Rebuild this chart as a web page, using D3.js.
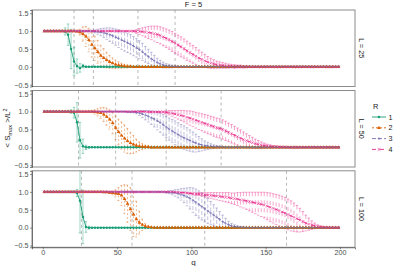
<!DOCTYPE html>
<html>
<head>
<meta charset="utf-8">
<script src="https://cdnjs.cloudflare.com/ajax/libs/d3/7.8.5/d3.min.js"></script>
<style>
body { margin: 0; background: #fff; }
text { font-family: "Liberation Sans", Arial, sans-serif; }
</style>
</head>
<body>
<svg id="chart" width="399" height="266"></svg>
<script>
// sample grid of q (every other q value)
var qGrid = d3.range(1, 201, 2);
var rLevels = ["1", "2", "3", "4"];
var rColors = ["#1B9E77", "#D95F02", "#7570B3", "#E7298A"];
var rDash = [null, "2,2", "4,2", "4,4"];
var lLabels = ["L = 25", "L = 50", "L = 100"];
var fLabel = "F = 5";
var xTicks = [0, 50, 100, 150, 200];
var yTicks = [-0.5, 0, 0.5, 1, 1.5];

// critical q (dashed lines) per L, one per R
var qc25 = [21, 34, 64, 89];
var qc50 = [24, 49, 83, 120];
var qc100 = [26, 60, 109, 164];

// <Smax>/L^2 means and sds, 10 values per row
var L25_R1_mean = [
	1,1,1,1,1,1,1,0.99,0.9,0.5,
	0.15,0.02,-0.03,0.02,0,0,0,0,0,0,
	0,0,0,0,0,0,0,0,0,0, 0,0,0,0,0,0,0,0,0,0, 0,0,0,0,0,0,0,0,0,0,
	0,0,0,0,0,0,0,0,0,0, 0,0,0,0,0,0,0,0,0,0, 0,0,0,0,0,0,0,0,0,0,
	0,0,0,0,0,0,0,0,0,0, 0,0,0,0,0,0,0,0,0,0];
var L25_R1_sd = [
	0,0,0,0,0,0,0.01,0.1,0.3,0.55,
	0.4,0.2,0.12,0.05,0.02,0.01,0,0,0,0,
	0,0,0,0,0,0,0,0,0,0, 0,0,0,0,0,0,0,0,0,0, 0,0,0,0,0,0,0,0,0,0,
	0,0,0,0,0,0,0,0,0,0, 0,0,0,0,0,0,0,0,0,0, 0,0,0,0,0,0,0,0,0,0,
	0,0,0,0,0,0,0,0,0,0, 0,0,0,0,0,0,0,0,0,0];
var L25_R2_mean = [
	1,1,1,1,1,1,1,1,1,1,
	1,0.99,0.97,0.92,0.85,0.75,0.62,0.52,0.42,0.31,
	0.25,0.19,0.14,0.1,0.07,0.05,0.03,0.02,0.01,0.01,
	0,0,0,0,0,0,0,0,0,0, 0,0,0,0,0,0,0,0,0,0, 0,0,0,0,0,0,0,0,0,0,
	0,0,0,0,0,0,0,0,0,0, 0,0,0,0,0,0,0,0,0,0, 0,0,0,0,0,0,0,0,0,0,
	0,0,0,0,0,0,0,0,0,0];
var L25_R2_sd = [
	0,0,0,0,0,0,0,0,0,0,
	0,0.02,0.08,0.2,0.28,0.33,0.35,0.34,0.32,0.29,
	0.26,0.22,0.18,0.15,0.12,0.09,0.07,0.05,0.04,0.03,
	0.02,0.01,0,0,0,0,0,0,0,0,
	0,0,0,0,0,0,0,0,0,0, 0,0,0,0,0,0,0,0,0,0, 0,0,0,0,0,0,0,0,0,0,
	0,0,0,0,0,0,0,0,0,0, 0,0,0,0,0,0,0,0,0,0, 0,0,0,0,0,0,0,0,0,0];
var L25_R3_mean = [
	1,1,1,1,1,1,1,1,1,1,
	1,1,1,1,1,1,1,0.99,0.98,0.97,
	0.95,0.93,0.9,0.87,0.83,0.79,0.75,0.71,0.67,0.63,
	0.58,0.53,0.48,0.42,0.35,0.29,0.23,0.17,0.12,0.08,
	0.05,0.03,0.02,0.01,0.01,0,0,0,0,0,
	0,0,0,0,0,0,0,0,0,0, 0,0,0,0,0,0,0,0,0,0, 0,0,0,0,0,0,0,0,0,0,
	0,0,0,0,0,0,0,0,0,0, 0,0,0,0,0,0,0,0,0,0];
var L25_R3_sd = [
	0,0,0,0,0,0,0,0,0,0,
	0,0,0,0,0,0,0.02,0.04,0.07,0.1,
	0.13,0.16,0.19,0.21,0.23,0.25,0.26,0.27,0.27,0.27,
	0.27,0.26,0.25,0.24,0.22,0.2,0.18,0.15,0.12,0.1,
	0.08,0.06,0.05,0.04,0.03,0.02,0.01,0.01,0,0,
	0,0,0,0,0,0,0,0,0,0, 0,0,0,0,0,0,0,0,0,0, 0,0,0,0,0,0,0,0,0,0,
	0,0,0,0,0,0,0,0,0,0, 0,0,0,0,0,0,0,0,0,0];
var L25_R4_mean = [
	1,1,1,1,1,1,1,1,1,1, 1,1,1,1,1,1,1,1,1,1, 1,1,1,1,1,1,1,1,1,1,
	1,0.99,0.99,0.98,0.97,0.96,0.95,0.93,0.91,0.88,
	0.84,0.8,0.76,0.71,0.66,0.61,0.56,0.51,0.45,0.4,
	0.35,0.3,0.25,0.21,0.17,0.13,0.1,0.08,0.06,0.05,
	0.04,0.03,0.02,0.02,0.01,0.01,0.01,0,0,0,
	0,0,0,0,0,0,0,0,0,0, 0,0,0,0,0,0,0,0,0,0, 0,0,0,0,0,0,0,0,0,0];
var L25_R4_sd = [
	0,0,0,0,0,0,0,0,0,0, 0,0,0,0,0,0,0,0,0,0, 0,0,0,0,0,0,0,0,0,0,
	0.02,0.05,0.08,0.11,0.14,0.17,0.19,0.21,0.23,0.24,
	0.25,0.26,0.27,0.28,0.28,0.28,0.28,0.27,0.27,0.26,
	0.25,0.24,0.22,0.2,0.18,0.16,0.14,0.12,0.1,0.09,
	0.08,0.07,0.06,0.05,0.05,0.04,0.04,0.03,0.02,0.02,
	0.01,0.01,0,0,0,0,0,0,0,0,
	0,0,0,0,0,0,0,0,0,0, 0,0,0,0,0,0,0,0,0,0];

var L50_R1_mean = [
	1,1,1,1,1,1,1,1,1,1,
	0.97,0.7,0.2,0.03,0,0,0,0,0,0,
	0,0,0,0,0,0,0,0,0,0, 0,0,0,0,0,0,0,0,0,0, 0,0,0,0,0,0,0,0,0,0,
	0,0,0,0,0,0,0,0,0,0, 0,0,0,0,0,0,0,0,0,0, 0,0,0,0,0,0,0,0,0,0,
	0,0,0,0,0,0,0,0,0,0, 0,0,0,0,0,0,0,0,0,0];
var L50_R1_sd = [
	0,0,0,0,0,0,0,0,0.02,0.05,
	0.15,0.55,0.5,0.2,0.06,0.02,0,0,0,0,
	0,0,0,0,0,0,0,0,0,0, 0,0,0,0,0,0,0,0,0,0, 0,0,0,0,0,0,0,0,0,0,
	0,0,0,0,0,0,0,0,0,0, 0,0,0,0,0,0,0,0,0,0, 0,0,0,0,0,0,0,0,0,0,
	0,0,0,0,0,0,0,0,0,0, 0,0,0,0,0,0,0,0,0,0];
var L50_R2_mean = [
	1,1,1,1,1,1,1,1,1,1,
	1,1,1,1,1,1,1,0.99,0.98,0.96,
	0.92,0.86,0.78,0.68,0.55,0.43,0.33,0.25,0.18,0.12,
	0.08,0.05,0.03,0.02,0.01,0.01,0,0,0,0,
	0,0,0,0,0,0,0,0,0,0, 0,0,0,0,0,0,0,0,0,0, 0,0,0,0,0,0,0,0,0,0,
	0,0,0,0,0,0,0,0,0,0, 0,0,0,0,0,0,0,0,0,0, 0,0,0,0,0,0,0,0,0,0];
var L50_R2_sd = [
	0,0,0,0,0,0,0,0,0,0,
	0,0,0,0,0,0.01,0.03,0.06,0.1,0.15,
	0.2,0.24,0.27,0.3,0.33,0.36,0.38,0.38,0.35,0.3,
	0.25,0.18,0.12,0.08,0.05,0.03,0.02,0.01,0,0,
	0,0,0,0,0,0,0,0,0,0, 0,0,0,0,0,0,0,0,0,0, 0,0,0,0,0,0,0,0,0,0,
	0,0,0,0,0,0,0,0,0,0, 0,0,0,0,0,0,0,0,0,0, 0,0,0,0,0,0,0,0,0,0];
var L50_R3_mean = [
	1,1,1,1,1,1,1,1,1,1, 1,1,1,1,1,1,1,1,1,1,
	1,1,1,1,1,1,1,1,0.99,0.99,
	0.99,0.98,0.96,0.93,0.9,0.87,0.83,0.79,0.74,0.69,
	0.63,0.57,0.51,0.46,0.41,0.36,0.31,0.27,0.23,0.19,
	0.15,0.12,0.09,0.07,0.05,0.04,0.03,0.02,0.02,0.01,
	0.01,0,0,0,0,0,0,0,0,0,
	0,0,0,0,0,0,0,0,0,0, 0,0,0,0,0,0,0,0,0,0, 0,0,0,0,0,0,0,0,0,0];
var L50_R3_sd = [
	0,0,0,0,0,0,0,0,0,0, 0,0,0,0,0,0,0,0,0,0,
	0,0,0,0,0,0,0,0,0.01,0.01,
	0.02,0.04,0.07,0.1,0.13,0.16,0.19,0.22,0.25,0.27,
	0.29,0.3,0.31,0.32,0.33,0.33,0.33,0.33,0.32,0.3,
	0.28,0.25,0.21,0.17,0.13,0.1,0.07,0.05,0.03,0.02,
	0.01,0,0,0,0,0,0,0,0,0,
	0,0,0,0,0,0,0,0,0,0, 0,0,0,0,0,0,0,0,0,0, 0,0,0,0,0,0,0,0,0,0];
var L50_R4_mean = [
	1,1,1,1,1,1,1,1,1,1, 1,1,1,1,1,1,1,1,1,1, 1,1,1,1,1,1,1,1,1,1,
	1,1,1,1,1,0.99,0.99,0.99,0.99,0.99,
	0.99,0.98,0.97,0.95,0.93,0.91,0.89,0.87,0.84,0.82,
	0.79,0.76,0.73,0.7,0.67,0.64,0.61,0.58,0.55,0.53,
	0.5,0.46,0.42,0.38,0.34,0.3,0.26,0.22,0.19,0.16,
	0.13,0.1,0.08,0.06,0.05,0.04,0.03,0.02,0.02,0.01,
	0.01,0.01,0,0,0,0,0,0,0,0,
	0,0,0,0,0,0,0,0,0,0];
var L50_R4_sd = [
	0,0,0,0,0,0,0,0,0,0, 0,0,0,0,0,0,0,0,0,0, 0,0,0,0,0,0,0,0,0,0,
	0,0,0,0,0,0.01,0.01,0.01,0.01,0.01,
	0.02,0.04,0.06,0.08,0.1,0.12,0.14,0.16,0.18,0.2,
	0.21,0.22,0.23,0.24,0.25,0.26,0.26,0.27,0.27,0.27,
	0.27,0.27,0.26,0.26,0.25,0.24,0.23,0.21,0.19,0.17,
	0.15,0.13,0.11,0.09,0.07,0.05,0.04,0.03,0.02,0.02,
	0.01,0.01,0,0,0,0,0,0,0,0,
	0,0,0,0,0,0,0,0,0,0];

var L100_R1_mean = [
	1,1,1,1,1,1,1,1,1,1,
	1,0.97,0.75,0.3,0.02,0,0,0,0,0,
	0,0,0,0,0,0,0,0,0,0, 0,0,0,0,0,0,0,0,0,0, 0,0,0,0,0,0,0,0,0,0,
	0,0,0,0,0,0,0,0,0,0, 0,0,0,0,0,0,0,0,0,0, 0,0,0,0,0,0,0,0,0,0,
	0,0,0,0,0,0,0,0,0,0, 0,0,0,0,0,0,0,0,0,0];
var L100_R1_sd = [
	0,0,0,0,0,0,0,0,0,0,
	0.02,0.1,0.9,0.75,0.15,0.04,0.01,0,0,0,
	0,0,0,0,0,0,0,0,0,0, 0,0,0,0,0,0,0,0,0,0, 0,0,0,0,0,0,0,0,0,0,
	0,0,0,0,0,0,0,0,0,0, 0,0,0,0,0,0,0,0,0,0, 0,0,0,0,0,0,0,0,0,0,
	0,0,0,0,0,0,0,0,0,0, 0,0,0,0,0,0,0,0,0,0];
var L100_R2_mean = [
	1,1,1,1,1,1,1,1,1,1, 1,1,1,1,1,1,1,1,1,1,
	0.99,0.99,0.98,0.97,0.96,0.94,0.9,0.8,0.67,0.52,
	0.37,0.24,0.14,0.08,0.04,0.02,0.01,0,0,0,
	0,0,0,0,0,0,0,0,0,0, 0,0,0,0,0,0,0,0,0,0, 0,0,0,0,0,0,0,0,0,0,
	0,0,0,0,0,0,0,0,0,0, 0,0,0,0,0,0,0,0,0,0, 0,0,0,0,0,0,0,0,0,0];
var L100_R2_sd = [
	0,0,0,0,0,0,0,0,0,0, 0,0,0,0,0,0,0,0,0,0,
	0,0.01,0.02,0.05,0.1,0.18,0.28,0.4,0.52,0.6,
	0.62,0.5,0.32,0.16,0.07,0.03,0.01,0,0,0,
	0,0,0,0,0,0,0,0,0,0, 0,0,0,0,0,0,0,0,0,0, 0,0,0,0,0,0,0,0,0,0,
	0,0,0,0,0,0,0,0,0,0, 0,0,0,0,0,0,0,0,0,0, 0,0,0,0,0,0,0,0,0,0];
var L100_R3_mean = [
	1,1,1,1,1,1,1,1,1,1, 1,1,1,1,1,1,1,1,1,1, 1,1,1,1,1,1,1,1,1,1, 1,1,1,1,1,1,1,1,1,1,
	1,0.99,0.99,0.98,0.97,0.95,0.93,0.9,0.86,0.82,
	0.77,0.71,0.65,0.59,0.53,0.47,0.41,0.35,0.29,0.23,
	0.17,0.12,0.08,0.05,0.03,0.02,0.01,0.01,0,0,
	0,0,0,0,0,0,0,0,0,0, 0,0,0,0,0,0,0,0,0,0, 0,0,0,0,0,0,0,0,0,0];
var L100_R3_sd = [
	0,0,0,0,0,0,0,0,0,0, 0,0,0,0,0,0,0,0,0,0, 0,0,0,0,0,0,0,0,0,0, 0,0,0,0,0,0,0,0,0,0,
	0.01,0.02,0.04,0.06,0.09,0.12,0.16,0.2,0.25,0.3,
	0.34,0.37,0.38,0.38,0.37,0.35,0.32,0.29,0.26,0.22,
	0.18,0.14,0.1,0.07,0.05,0.03,0.02,0.01,0,0,
	0,0,0,0,0,0,0,0,0,0, 0,0,0,0,0,0,0,0,0,0, 0,0,0,0,0,0,0,0,0,0];
var L100_R4_mean = [
	1,1,1,1,1,1,1,1,1,1, 1,1,1,1,1,1,1,1,1,1, 1,1,1,1,1,1,1,1,1,1, 1,1,1,1,1,1,1,1,1,1,
	1,1,1,1,0.99,0.99,0.98,0.98,0.97,0.96,
	0.95,0.94,0.94,0.93,0.92,0.91,0.9,0.89,0.88,0.87,
	0.86,0.85,0.84,0.82,0.81,0.8,0.78,0.77,0.75,0.73,
	0.71,0.69,0.67,0.65,0.63,0.6,0.57,0.54,0.51,0.48,
	0.44,0.41,0.37,0.33,0.29,0.25,0.21,0.17,0.13,0.1,
	0.07,0.05,0.03,0.02,0.01,0.01,0,0,0,0];
var L100_R4_sd = [
	0,0,0,0,0,0,0,0,0,0, 0,0,0,0,0,0,0,0,0,0, 0,0,0,0,0,0,0,0,0,0, 0,0,0,0,0,0,0,0,0,0,
	0,0,0,0,0,0,0,0,0.01,0.01,
	0.02,0.03,0.04,0.05,0.06,0.07,0.08,0.09,0.1,0.11,
	0.12,0.13,0.14,0.15,0.16,0.18,0.2,0.22,0.24,0.26,
	0.28,0.3,0.32,0.34,0.36,0.38,0.4,0.41,0.42,0.43,
	0.44,0.44,0.43,0.42,0.4,0.37,0.33,0.28,0.22,0.17,
	0.12,0.08,0.05,0.03,0.02,0.01,0,0,0,0];

var panels = [
	{ label: lLabels[0], qc: qc25, means: [L25_R1_mean, L25_R2_mean, L25_R3_mean, L25_R4_mean], sds: [L25_R1_sd, L25_R2_sd, L25_R3_sd, L25_R4_sd] },
	{ label: lLabels[1], qc: qc50, means: [L50_R1_mean, L50_R2_mean, L50_R3_mean, L50_R4_mean], sds: [L50_R1_sd, L50_R2_sd, L50_R3_sd, L50_R4_sd] },
	{ label: lLabels[2], qc: qc100, means: [L100_R1_mean, L100_R2_mean, L100_R3_mean, L100_R4_mean], sds: [L100_R1_sd, L100_R2_sd, L100_R3_sd, L100_R4_sd] }
];

var svg = d3.select("#chart");
var panelLeft = 32, panelRight = 355;
var panelTops = [10, 90.5, 170.8];
var panelH = 76.5;

var x = d3.scaleLinear().domain([-7.3, 210.1]).range([panelLeft, panelRight]);

function symbolPath(r)
{
	var s = 1.3;
	if (r == 0) return d3.symbol().type(d3.symbolCircle).size(5)();
	if (r == 1) return d3.symbol().type(d3.symbolTriangle).size(6)();
	if (r == 2) return "M" + (-s) + ",0H" + s + "M0," + (-s) + "V" + s;
	return "M" + (-s) + "," + (-s) + "L" + s + "," + s + "M" + (-s) + "," + s + "L" + s + "," + (-s);
}

function drawPanel(p, i)
{
	var top = panelTops[i];
	var y = d3.scaleLinear().domain([-0.55, 1.59]).range([top + panelH, top]);
	var g = svg.append("g");

	svg.append("clipPath").attr("id", "clip" + i)
		.append("rect").attr("x", panelLeft).attr("y", top)
		.attr("width", panelRight - panelLeft).attr("height", panelH);

	var inner = g.append("g").attr("clip-path", "url(#clip" + i + ")");

	// dashed critical lines
	inner.selectAll("line.qc").data(p.qc).enter().append("line")
		.attr("x1", function(d) { return x(d); }).attr("x2", function(d) { return x(d); })
		.attr("y1", top).attr("y2", top + panelH)
		.attr("stroke", "#8a8a8a").attr("stroke-width", 0.6)
		.attr("stroke-dasharray", "3,3");

	var capW = 1.3;
	// error bars
	p.means.forEach(function(m, r) {
		var pts = qGrid.map(function(q, k) { return { q: q, m: m[k], s: p.sds[r][k] }; });
		inner.append("g").selectAll("path").data(pts).enter().append("path")
			.attr("d", function(d) {
				var cx = x(d.q), y1 = y(d.m + d.s), y2 = y(d.m - d.s);
				return "M" + (cx - capW) + "," + y1 + "H" + (cx + capW) +
					"M" + cx + "," + y1 + "V" + y2 +
					"M" + (cx - capW) + "," + y2 + "H" + (cx + capW);
			})
			.attr("fill", "none").attr("stroke", rColors[r])
			.attr("stroke-width", 0.6).attr("stroke-opacity", 0.7)
			.attr("stroke-dasharray", rDash[r]);
	});

	// mean lines
	var line = d3.line().x(function(d) { return x(d[0]); }).y(function(d) { return y(d[1]); });
	p.means.forEach(function(m, r) {
		inner.append("path")
			.datum(qGrid.map(function(q, k) { return [q, m[k]]; }))
			.attr("d", line).attr("fill", "none")
			.attr("stroke", rColors[r]).attr("stroke-width", 0.9)
			.attr("stroke-dasharray", rDash[r]);
	});

	// points
	p.means.forEach(function(m, r) {
		inner.append("g").selectAll("path").data(qGrid.map(function(q, k) { return [q, m[k]]; }))
			.enter().append("path")
			.attr("transform", function(d) { return "translate(" + x(d[0]) + "," + y(d[1]) + ")"; })
			.attr("d", symbolPath(r))
			.attr("fill", r < 2 ? rColors[r] : "none")
			.attr("stroke", r < 2 ? "none" : rColors[r])
			.attr("stroke-width", 0.6);
	});

	// panel border
	g.append("rect").attr("x", panelLeft).attr("y", top)
		.attr("width", panelRight - panelLeft).attr("height", panelH)
		.attr("fill", "none").attr("stroke", "#8c8c8c").attr("stroke-width", 1);

	// y axis
	var ya = g.append("g").attr("transform", "translate(" + panelLeft + ",0)")
		.call(d3.axisLeft(y).tickValues(yTicks).tickSize(2).tickPadding(1.5)
			.tickFormat(function(d) { return d < 0 ? "\u2212" + d3.format(".1f")(-d) : d3.format(".1f")(d); }));
	ya.select(".domain").attr("stroke", "#333").attr("stroke-width", 0.6);
	ya.selectAll(".tick line").attr("stroke", "#333").attr("stroke-width", 0.5);
	ya.selectAll(".tick text").attr("fill", "#4d4d4d").style("font-size", "7.2px")
		.style("font-family", "Liberation Sans, Arial, sans-serif");

	// strip label on the right
	g.append("text").attr("transform", "translate(" + 359 + "," + (top + panelH / 2) + ") rotate(90)")
		.attr("text-anchor", "middle").attr("fill", "#1a1a1a").style("font-size", "7.2px")
		.text(p.label);
}

panels.forEach(drawPanel);

// x axis under the last panel
var xa = svg.append("g").attr("transform", "translate(0," + (panelTops[2] + panelH) + ")")
	.call(d3.axisBottom(x).tickValues(xTicks).tickSize(2).tickPadding(1));
xa.select(".domain").attr("stroke", "#333").attr("stroke-width", 0.6);
xa.selectAll(".tick line").attr("stroke", "#333").attr("stroke-width", 0.5);
xa.selectAll(".tick text").attr("fill", "#4d4d4d").style("font-size", "7.2px")
	.style("font-family", "Liberation Sans, Arial, sans-serif");

// titles
svg.append("text").attr("x", (panelLeft + panelRight) / 2).attr("y", 7)
	.attr("text-anchor", "middle").attr("fill", "#1a1a1a").style("font-size", "7.5px").text(fLabel);
svg.append("text").attr("x", (panelLeft + panelRight) / 2).attr("y", 264.5)
	.attr("text-anchor", "middle").attr("fill", "#1a1a1a").style("font-size", "8px").text("q");

var yt = svg.append("text").attr("transform", "translate(10,128) rotate(-90)")
	.attr("text-anchor", "middle").attr("fill", "#1a1a1a").style("font-size", "8px");
yt.append("tspan").text("< S");
yt.append("tspan").attr("dy", 1.5).style("font-size", "5.5px").text("max");
yt.append("tspan").attr("dy", -1.5).text(" >/L");
yt.append("tspan").attr("dy", -3).style("font-size", "5.5px").text("2");

// legend
var leg = svg.append("g");
leg.append("text").attr("x", 373).attr("y", 109).attr("fill", "#1a1a1a").style("font-size", "7.5px").text("R");
rLevels.forEach(function(lv, r) {
	var cy = 117 + r * 10.8;
	leg.append("line").attr("x1", 372).attr("x2", 386).attr("y1", cy).attr("y2", cy)
		.attr("stroke", rColors[r]).attr("stroke-width", 0.9).attr("stroke-dasharray", rDash[r]);
	leg.append("path").attr("transform", "translate(379," + cy + ")").attr("d", symbolPath(r))
		.attr("fill", r < 2 ? rColors[r] : "none").attr("stroke", r < 2 ? "none" : rColors[r])
		.attr("stroke-width", 0.7);
	leg.append("text").attr("x", 388.5).attr("y", cy + 2.6).attr("fill", "#1a1a1a")
		.style("font-size", "7.2px").text(lv);
});
</script>
</body>
</html>
